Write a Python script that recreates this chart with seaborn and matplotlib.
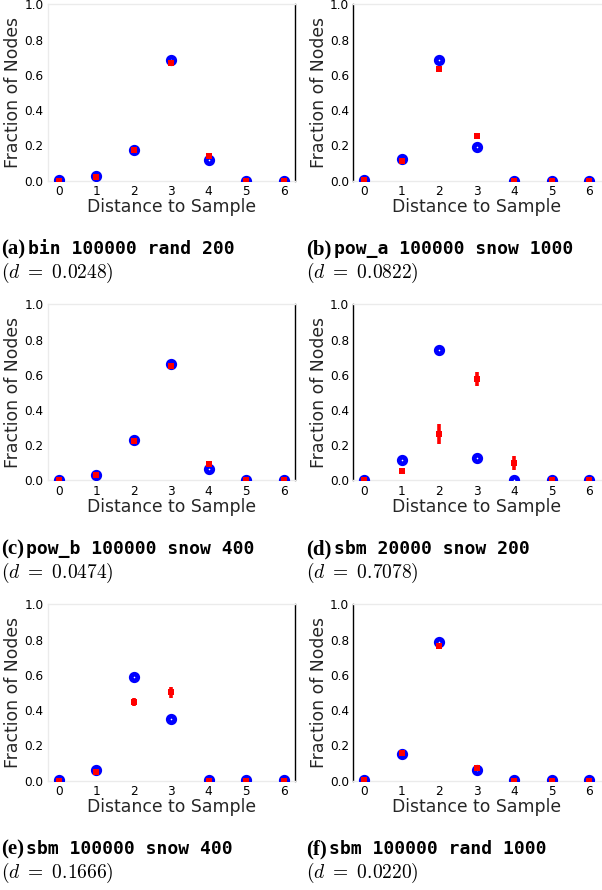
import numpy as np
import pandas as pd
import matplotlib
matplotlib.use("Agg")
import matplotlib.pyplot as plt
import seaborn as sns

# ---------------- data ----------------
distances = [0, 1, 2, 3, 4, 5, 6]
xtick_labels = ["0", "1", "2", "3", "4", "5", "6"]
ytick_values = [0.0, 0.2, 0.4, 0.6, 0.8, 1.0]

panel_letters = ["a", "b", "c", "d", "e", "f"]
panel_names = ["bin 100000 rand 200", "pow_a 100000 snow 1000",
               "pow_b 100000 snow 400", "sbm 20000 snow 200",
               "sbm 100000 snow 400", "sbm 100000 rand 1000"]
panel_d = ["0.0248", "0.0822", "0.0474", "0.7078", "0.1666", "0.0220"]

# blue: true distribution, red: sample estimate (mean) with error
true_a = [0.004, 0.024, 0.176, 0.686, 0.119, 0.001, 0.001]
est_a = [0.001, 0.020, 0.175, 0.670, 0.143, 0.0, 0.0]
err_a = [0.0, 0.003, 0.004, 0.006, 0.006, 0.0, 0.0]

true_b = [0.006, 0.123, 0.686, 0.193, 0.001, 0.001, 0.001]
est_b = [0.003, 0.109, 0.636, 0.253, 0.0, 0.0, 0.0]
err_b = [0.0, 0.004, 0.006, 0.006, 0.0, 0.0, 0.0]

true_c = [0.003, 0.034, 0.229, 0.662, 0.066, 0.001, 0.001]
est_c = [0.0, 0.030, 0.225, 0.649, 0.094, 0.0, 0.0]
err_c = [0.0, 0.003, 0.004, 0.005, 0.005, 0.0, 0.0]

true_d = [0.005, 0.119, 0.740, 0.128, 0.001, 0.001, 0.001]
est_d = [0.001, 0.053, 0.263, 0.576, 0.100, 0.0, 0.0]
err_d = [0.0, 0.004, 0.057, 0.040, 0.040, 0.0, 0.0]

true_e = [0.003, 0.062, 0.585, 0.350, 0.001, 0.001, 0.001]
est_e = [0.0, 0.049, 0.447, 0.500, 0.0, 0.0, 0.0]
err_e = [0.0, 0.004, 0.022, 0.030, 0.0, 0.0, 0.0]

true_f = [0.005, 0.149, 0.784, 0.058, 0.001, 0.001, 0.001]
est_f = [0.002, 0.157, 0.765, 0.072, 0.0, 0.0, 0.0]
err_f = [0.0, 0.004, 0.005, 0.004, 0.0, 0.0, 0.0]

true_all = [true_a, true_b, true_c, true_d, true_e, true_f]
est_all = [est_a, est_b, est_c, est_d, est_e, est_f]
err_all = [err_a, err_b, err_c, err_d, err_e, err_f]

# ---------------- style ----------------
sns.set_theme(style="white")
plt.rcParams["font.family"] = ["DejaVu Sans"]
plt.rcParams["mathtext.fontset"] = "cm"

W, H = 602, 890
fig = plt.figure(figsize=(W / 100, H / 100), dpi=100)

ax_w = 247.3
ax_h = 176.2
lefts = [47.7, 353.3]
tops = [4.5, 304.3, 604.3]
light = "#ebebeb"

for i in range(6):
    r, c = divmod(i, 2)
    left = lefts[c]
    top = tops[r]
    ax = fig.add_axes([left / W, 1 - (top + ax_h) / H, ax_w / W, ax_h / H])
    df = pd.DataFrame({"distance": distances, "true": true_all[i],
                       "est": est_all[i], "err": err_all[i]})
    sns.scatterplot(data=df, x="distance", y="true", ax=ax, marker="o",
                    s=22, facecolor="white", edgecolor="blue",
                    linewidth=3.4, zorder=3)
    ax.errorbar(df["distance"], df["est"], yerr=df["err"], fmt="none",
                ecolor="red", elinewidth=2.6, capsize=0, zorder=4)
    sns.scatterplot(data=df, x="distance", y="est", ax=ax, marker="s",
                    s=17, color="red", linewidth=0, zorder=5)
    for coll in ax.collections:
        coll.set_clip_on(True)
        coll.set_clip_box(ax.bbox)
        coll.set_clip_path(ax.patch)
    ax.set_xlim(-0.29, 6.3)
    ax.set_ylim(0, 1)
    ax.set_xticks(distances)
    ax.set_xticklabels(xtick_labels)
    ax.set_yticks(ytick_values)
    ax.set_yticklabels([f"{v:.1f}" for v in ytick_values])
    ax.tick_params(axis="both", labelsize=8.7, colors="black", length=0)
    ax.tick_params(axis="x", pad=3.2)
    ax.tick_params(axis="y", pad=3.0)
    ax.set_xlabel("Distance to Sample", fontsize=12.4, labelpad=0.0)
    ax.set_ylabel("Fraction of Nodes", fontsize=12.4, labelpad=1.5)
    for s in ["top", "bottom"]:
        ax.spines[s].set_color(light)
        ax.spines[s].set_linewidth(1.0)
    if c == 0:
        ax.spines["left"].set_color(light)
        ax.spines["left"].set_linewidth(1.0)
        ax.spines["right"].set_color("black")
        ax.spines["right"].set_linewidth(1.0)
    else:
        ax.spines["left"].set_color("black")
        ax.spines["left"].set_linewidth(1.0)
        ax.spines["right"].set_visible(False)

# ---------------- captions ----------------
cap_x = [1.0, 306.0]
base1 = [254.5, 554.5, 854.5]
base2 = [278.0, 578.0, 878.0]
label_texts = []
for i in range(6):
    r, c = divmod(i, 2)
    t1 = fig.text(cap_x[c] / W, 1 - base1[r] / H, f"({panel_letters[i]})",
                  fontfamily="Liberation Serif", fontweight="bold",
                  fontsize=15, va="baseline", ha="left", color="black")
    label_texts.append(t1)
    fig.text(cap_x[c] / W, 1 - base2[r] / H, rf"$(d\ =\ {panel_d[i]})$",
             fontsize=14, va="baseline", ha="left", color="black")

fig.canvas.draw()
renderer = fig.canvas.get_renderer()
for i in range(6):
    r, c = divmod(i, 2)
    bb = label_texts[i].get_window_extent(renderer)
    fig.text((bb.x1 + 2.5) / W, 1 - base1[r] / H, panel_names[i],
             fontfamily="DejaVu Sans Mono", fontweight="bold", fontsize=13,
             va="baseline", ha="left", color="black")

fig.savefig("out.png", dpi=100)
